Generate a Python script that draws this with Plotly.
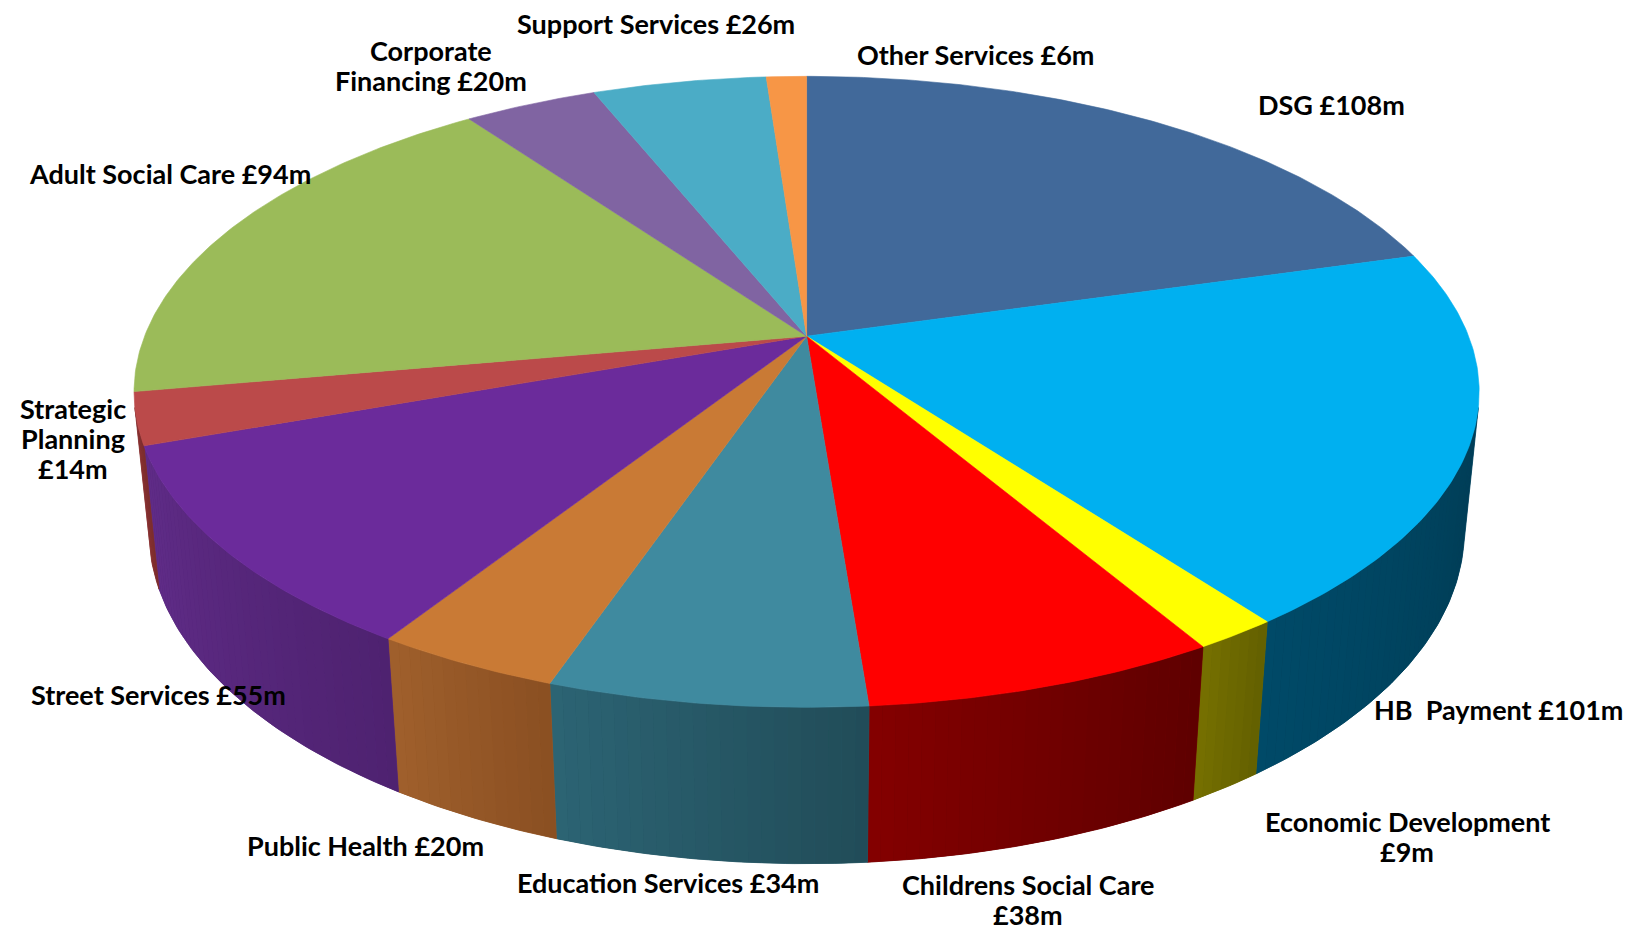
import numpy as np
import plotly.graph_objects as go

# Budget by service area (£m), clockwise from 12 o'clock
categories = ["DSG", "HB  Payment", "Economic Development", "Childrens Social Care",
              "Education Services", "Public Health", "Street Services", "Strategic Planning",
              "Adult Social Care", "Corporate Financing", "Support Services", "Other Services"]
values = [108, 101, 9, 38, 34, 20, 55, 14, 94, 20, 26, 6]

# Label text as drawn, one list entry per line
label_lines = [
    ["DSG £108m"],
    ["HB  Payment £101m"],
    ["Economic Development", "£9m"],
    ["Childrens Social Care", "£38m"],
    ["Education Services £34m"],
    ["Public Health £20m"],
    ["Street Services £55m"],
    ["Strategic", "Planning", "£14m"],
    ["Adult Social Care £94m"],
    ["Corporate", "Financing £20m"],
    ["Support Services £26m"],
    ["Other Services £6m"],
]

# Styling
top_colors = ["#41699a", "#00b0f0", "#ffff00", "#ff0000", "#3f8a9f", "#c97a35",
              "#6b2b9b", "#bb4a4a", "#9bbb59", "#8064a2", "#4bacc6", "#f79646"]
side_light = ["#2c4a70", "#004a68", "#767000", "#840000", "#2c6474", "#a0602c",
              "#602c88", "#8e3434", "#6f8a3c", "#5a4676", "#357c90", "#b86c30"]
side_dark = ["#223a58", "#003c55", "#636000", "#5e0000", "#214c58", "#8a4f22",
             "#4e2270", "#7a2c2c", "#5e7632", "#4a3a62", "#2a6476", "#a05c28"]

# Label block centres on the page (pixels) and line pitch
label_pos = [(1331, 104), (1498, 709), (1407, 836), (1028, 899), (668, 882), (365, 845),
             (158, 694), (73, 438), (170, 173), (431, 65), (656, 23), (975, 54)]
LINE_PITCH = 30
FONT = dict(family="Lato", size=27, color="#000000", weight="bold")

W, H = 1632, 931

# Perspective camera for the tilted disc
CX, CY = 806.6, 336.2       # screen position of the disc centre
F = 3330.0                   # focal scale
DIST = 5.03                  # camera distance (disc radius = 1)
PHI = np.radians(27.5)       # elevation angle
THICK = 0.239                # disc thickness


def project(theta, z):
    x = np.sin(theta)
    y = np.cos(theta)
    depth = DIST + y * np.cos(PHI) - z * np.sin(PHI)
    sx = F * x / depth
    sy = F * (y * np.sin(PHI) + z * np.cos(PHI)) / depth
    return CX + sx, CY - sy


def hex_to_rgb(h):
    h = h.lstrip("#")
    return np.array([int(h[i:i + 2], 16) for i in (0, 2, 4)], dtype=float)


def mix(c1, c2, t):
    c = hex_to_rgb(c1) * (1 - t) + hex_to_rgb(c2) * t
    return "rgb(%d,%d,%d)" % tuple(np.round(c).astype(int))


def wall(a, b, col, lw):
    th = np.linspace(a, b, max(6, int((b - a) / 0.01)))
    xt, yt = project(th, 0.0)
    xb, yb = project(th[::-1], -THICK)
    return go.Scatter(
        x=np.concatenate([xt, xb, xt[:1]]), y=np.concatenate([yt, yb, yt[:1]]),
        mode="lines", fill="toself", fillcolor=col,
        line=dict(color=col, width=lw), hoverinfo="skip", showlegend=False)


vals = np.array(values, dtype=float)
bounds = np.concatenate([[0.0], np.cumsum(vals)]) / vals.sum() * 2 * np.pi

# Visible part of the outer wall
t_vis = np.arccos(-1.0 / (DIST * np.cos(PHI)))
vis_lo, vis_hi = t_vis, 2 * np.pi - t_vis

fig = go.Figure()

# Outer walls: a solid base per slice, then shaded strips over it
for i in range(len(values)):
    a = max(bounds[i], vis_lo)
    b = min(bounds[i + 1], vis_hi)
    if b <= a:
        continue
    fig.add_trace(wall(a, b, mix(side_dark[i], side_light[i], 0.5), 0.8))
    n = max(2, int(np.ceil((b - a) / np.radians(1.0))))
    edges = np.linspace(a, b, n + 1)
    for k in range(n):
        col = mix(side_dark[i], side_light[i], (k + 0.5) / n)
        fig.add_trace(wall(edges[k], edges[k + 1], col, 0))

# Top faces
for i in range(len(values)):
    th = np.linspace(bounds[i], bounds[i + 1], max(8, int((bounds[i + 1] - bounds[i]) / 0.01)))
    xa, ya = project(th, 0.0)
    x = np.concatenate([[CX], xa, [CX]])
    y = np.concatenate([[CY], ya, [CY]])
    fig.add_trace(go.Scatter(
        x=x, y=y, mode="lines", fill="toself", fillcolor=top_colors[i],
        line=dict(color=top_colors[i], width=0.6), hoverinfo="skip", showlegend=False,
        name=categories[i]))

# Labels, one annotation per line
for lines, (lx, ly) in zip(label_lines, label_pos):
    top = ly - LINE_PITCH * (len(lines) - 1) / 2
    for j, txt in enumerate(lines):
        fig.add_annotation(x=lx, y=top + j * LINE_PITCH, xref="x", yref="y", text=txt,
                           showarrow=False, xanchor="center", yanchor="middle",
                           font=FONT)

fig.update_layout(
    width=W, height=H, margin=dict(l=0, r=0, t=0, b=0),
    paper_bgcolor="white", plot_bgcolor="white",
    xaxis=dict(range=[0, W], visible=False, fixedrange=True),
    yaxis=dict(range=[H, 0], visible=False, fixedrange=True),
    showlegend=False,
)

fig.write_html("out.html")
